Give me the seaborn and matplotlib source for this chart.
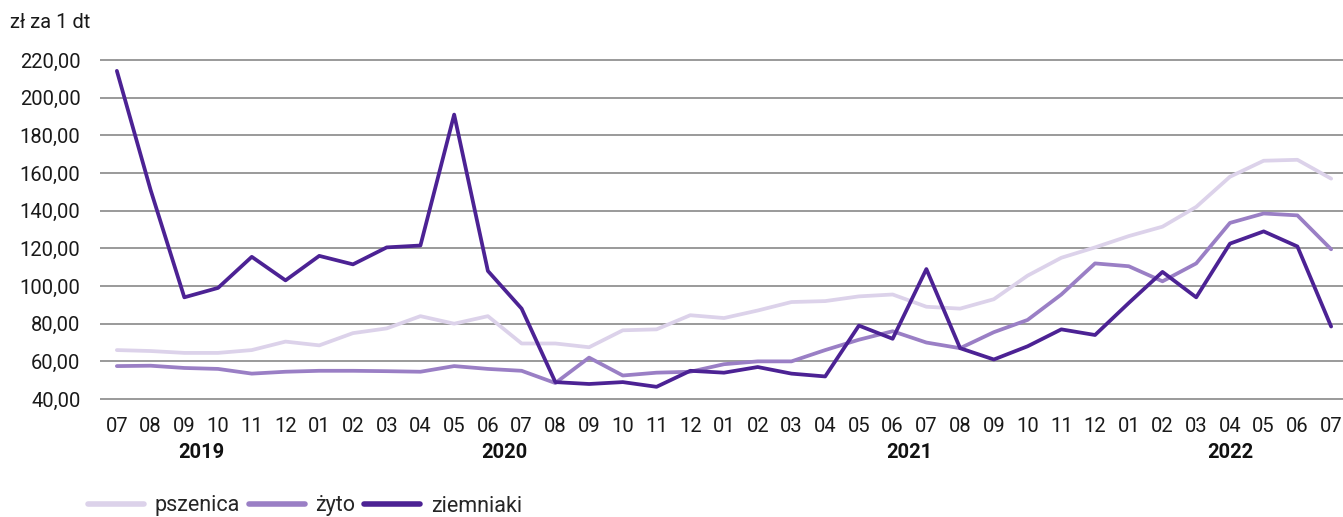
import matplotlib
matplotlib.use("Agg")
import matplotlib.pyplot as plt
import matplotlib.transforms as mtransforms
from matplotlib.ticker import FuncFormatter
import numpy as np
import pandas as pd
import seaborn as sns

# miesiace 2019-07 .. 2022-07
months = ["07", "08", "09", "10", "11", "12",
          "01", "02", "03", "04", "05", "06", "07", "08", "09", "10", "11", "12",
          "01", "02", "03", "04", "05", "06", "07", "08", "09", "10", "11", "12",
          "01", "02", "03", "04", "05", "06", "07"]
years = ["2019", "2020", "2021", "2022"]
year_len = [6, 12, 12, 7]

pszenica = [66.0, 65.5, 64.5, 64.5, 66.0, 70.5,
            68.5, 75.0, 77.5, 84.0, 80.0, 84.0, 69.5, 69.5, 67.5, 76.5, 77.0, 84.5,
            83.0, 87.0, 91.5, 92.0, 94.5, 95.5, 89.0, 88.0, 93.0, 105.5, 115.0, 120.5,
            126.5, 131.5, 142.0, 158.0, 166.5, 167.0, 157.0]
zyto = [57.5, 57.7, 56.5, 56.0, 53.5, 54.5,
        55.0, 55.0, 54.8, 54.5, 57.5, 56.0, 55.0, 48.5, 62.0, 52.5, 54.0, 54.5,
        58.5, 60.0, 60.0, 66.0, 71.5, 76.0, 70.0, 67.0, 75.5, 82.0, 95.5, 112.0,
        110.5, 102.5, 112.0, 133.5, 138.5, 137.5, 119.5]
ziemniaki = [214.2, 151.0, 94.0, 99.0, 115.5, 103.0,
             116.0, 111.5, 120.5, 121.5, 191.0, 108.0, 88.0, 49.0, 48.0, 49.0, 46.5, 55.0,
             54.0, 57.0, 53.5, 52.0, 79.0, 72.0, 109.0, 67.0, 61.0, 68.0, 77.0, 74.0,
             91.0, 107.5, 94.0, 122.5, 129.0, 121.0, 78.5]

series = {"pszenica": pszenica, "żyto": zyto, "ziemniaki": ziemniaki}
kolory = {"pszenica": "#dcd2ea", "żyto": "#9a7fc5", "ziemniaki": "#4c2294"}

df = pd.concat([pd.DataFrame({"idx": np.arange(len(months)), "cena": v, "rodzaj": k})
                for k, v in series.items()], ignore_index=True)

sns.set_style("white")
plt.rcParams["font.family"] = ["Roboto", "DejaVu Sans"]
fs = 14.5

fig = plt.figure(figsize=(13.43, 5.17), dpi=100)
W, H = 1343.0, 517.0
ax = fig.add_axes([100.0 / W, 1 - 400.0 / H, 1248.0 / W, 341.0 / H])

for y in range(40, 221, 20):
    ax.axhline(y, color="#9a9a9a", lw=1.4, zorder=0)

sns.lineplot(data=df, x="idx", y="cena", hue="rodzaj", palette=kolory,
             linewidth=2.7, ax=ax, legend=False, zorder=3)

ax.set_xlim(-0.5, len(months) - 0.5)
ax.set_ylim(39.5, 220.5)
ax.set_yticks(range(40, 221, 20))
ax.yaxis.set_major_formatter(FuncFormatter(lambda v, p: f"{v:.2f}".replace(".", ",")))
ax.set_xticks(np.arange(len(months)))
ax.set_xticklabels(months)
ax.tick_params(axis="both", length=0, labelsize=fs, colors="#1a1a1a")
ax.tick_params(axis="x", pad=12)
ax.tick_params(axis="y", pad=14)
ax.set_xlabel("")
ax.set_ylabel("")
for s in ax.spines.values():
    s.set_visible(False)

# lata pod miesiacami
trans = mtransforms.blended_transform_factory(ax.transData, fig.transFigure)
start = 0
for rok, n in zip(years, year_len):
    ax.text(start + (n - 1) / 2.0, 1 - 452.0 / H, rok, transform=trans,
            ha="center", va="center", fontsize=fs, fontweight="bold", color="#111111")
    start += n

fig.text(10.0 / W, 1 - 22.0 / H, "zł za 1 dt", fontsize=fs, va="center", ha="left", color="#1a1a1a")

handles = [plt.Line2D([], [], color=kolory[k], lw=4, solid_capstyle="round") for k in series]
fig.legend(handles, list(series.keys()), loc="center left", bbox_to_anchor=(88.0 / W, 1 - 506.0 / H),
           ncol=3, frameon=False, fontsize=15.5, handlelength=2.6, handletextpad=0.5,
           columnspacing=0.4, borderaxespad=0, borderpad=0)

fig.savefig("out.png", dpi=100)
